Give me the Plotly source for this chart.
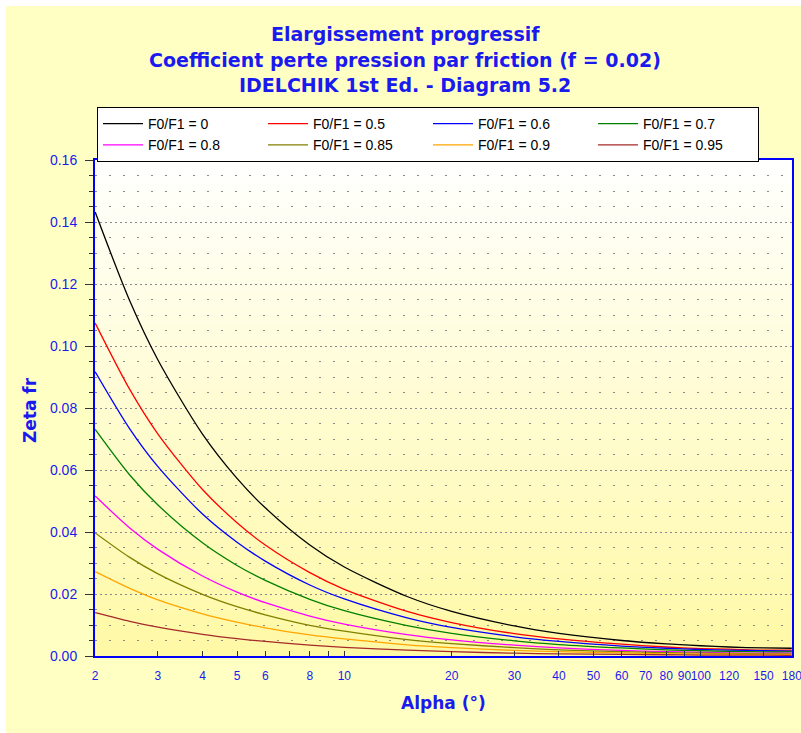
import math
import plotly.graph_objects as go

# ---------------- data ----------------
alpha = [2, 2.5, 3, 4, 5, 6, 8, 10, 15, 20, 30, 40, 60, 80, 100, 120, 150, 180]

zeta_0 = [0.1432, 0.1146, 0.0955, 0.0716, 0.0573, 0.0478, 0.0358, 0.0287, 0.0192, 0.0144,
          0.0097, 0.0073, 0.0050, 0.0039, 0.0033, 0.0029, 0.0026, 0.0025]
zeta_05 = [0.1074, 0.0860, 0.0716, 0.0537, 0.0430, 0.0358, 0.0269, 0.0215, 0.0144, 0.0108,
           0.0072, 0.0055, 0.0038, 0.0029, 0.0024, 0.0022, 0.0019, 0.0019]
zeta_06 = [0.0917, 0.0733, 0.0611, 0.0458, 0.0367, 0.0306, 0.0229, 0.0184, 0.0123, 0.0092,
           0.0062, 0.0047, 0.0032, 0.0025, 0.0021, 0.0019, 0.0017, 0.0016]
zeta_07 = [0.0731, 0.0584, 0.0487, 0.0365, 0.0292, 0.0244, 0.0183, 0.0146, 0.0098, 0.0073,
           0.0049, 0.0037, 0.0026, 0.0020, 0.0017, 0.0015, 0.0013, 0.0013]
zeta_08 = [0.0516, 0.0413, 0.0344, 0.0258, 0.0206, 0.0172, 0.0129, 0.0103, 0.0069, 0.0052,
           0.0035, 0.0026, 0.0018, 0.0014, 0.0012, 0.0010, 0.0009, 0.0009]
zeta_085 = [0.0397, 0.0318, 0.0265, 0.0199, 0.0159, 0.0133, 0.0099, 0.0080, 0.0053, 0.0040,
            0.0027, 0.0020, 0.0014, 0.0011, 0.0009, 0.0008, 0.0007, 0.0007]
zeta_09 = [0.0272, 0.0218, 0.0181, 0.0136, 0.0109, 0.0091, 0.0068, 0.0055, 0.0036, 0.0027,
           0.0018, 0.0014, 0.0010, 0.0007, 0.0006, 0.0006, 0.0005, 0.0005]
zeta_095 = [0.0140, 0.0112, 0.0093, 0.0070, 0.0056, 0.0047, 0.0035, 0.0028, 0.0019, 0.0014,
            0.0009, 0.0007, 0.0005, 0.0004, 0.0003, 0.0003, 0.0003, 0.0002]

series_names = ["F0/F1 = 0", "F0/F1 = 0.5", "F0/F1 = 0.6", "F0/F1 = 0.7",
                "F0/F1 = 0.8", "F0/F1 = 0.85", "F0/F1 = 0.9", "F0/F1 = 0.95"]
series_values = [zeta_0, zeta_05, zeta_06, zeta_07, zeta_08, zeta_085, zeta_09, zeta_095]
series_colors = ["#000000", "#FF0000", "#0000FF", "#008000",
                 "#FF00FF", "#808000", "#FFA500", "#A52A2A"]

x_tick_vals = [2, 3, 4, 5, 6, 7, 8, 9, 10, 20, 30, 40, 50, 60, 70, 80, 90, 100, 120, 150, 180]
x_tick_text = ["2", "3", "4", "5", "6", "", "8", "", "10", "20", "30", "40", "50", "60",
               "70", "80", "90", "100", "120", "150", "180"]
x_major_grid = [10, 100]
x_minor_grid = [3, 4, 5, 6, 7, 8, 9, 20, 30, 40, 50, 60, 70, 80, 90]

title_lines = ["Elargissement progressif",
               "Coefficient perte pression par friction (f = 0.02)",
               "IDELCHIK 1st Ed. - Diagram 5.2"]

# ---------------- figure ----------------
FONT = "Liberation Sans, Arial, sans-serif"
TFONT = "DejaVu Sans, Verdana, sans-serif"
BLUE = "#0000FF"
TXT_BLUE = "#1a1aee"
GRID = "#8a8a8a"

fig = go.Figure()
for name, vals, col in zip(series_names, series_values, series_colors):
    fig.add_trace(go.Scatter(x=alpha, y=vals, mode="lines", name=name,
                             line=dict(color=col, width=1.3, shape="spline", smoothing=0.8)))

W, H = 801, 733
ml, mr, mt, mb = 95, 9, 160, 77
pw, ph = W - ml - mr, H - mt - mb

shapes = []
# outer pale-yellow panel
shapes.append(dict(type="rect", xref="paper", yref="paper",
                   x0=(6 - ml) / pw, x1=(W + 5 - ml) / pw,
                   y0=(H - mb - (H + 5)) / ph, y1=(H - mb - 6) / ph,
                   fillcolor="#FFFFC4", line=dict(width=0), layer="below"))
# vertical gradient in plot area (white -> yellow)
n = 60
top = (255, 255, 255)
bot = (255, 249, 165)
for i in range(n):
    t = (i + 0.5) / n
    c = tuple(int(round(top[k] + (bot[k] - top[k]) * t)) for k in range(3))
    shapes.append(dict(type="rect", xref="x domain", yref="y domain",
                       x0=0, x1=1, y0=1 - (i + 1) / n, y1=1 - i / n + 0.002,
                       fillcolor="rgb(%d,%d,%d)" % c, line=dict(width=0), layer="below"))

annotations = []
for i, line in enumerate(title_lines):
    py = 34 + i * 25.5
    annotations.append(dict(text="<b>%s</b>" % line, xref="paper", yref="paper",
                            x=(405 - ml) / pw, y=(H - mb - py) / ph, showarrow=False,
                            xanchor="center", yanchor="middle",
                            font=dict(family=TFONT, size=19, color=TXT_BLUE)))
annotations.append(dict(text="<b>Zeta fr</b>", xref="paper", yref="paper",
                        x=(30 - ml) / pw, y=(H - mb - 410) / ph, textangle=-90, showarrow=False,
                        xanchor="center", yanchor="middle",
                        font=dict(family=TFONT, size=17, color=TXT_BLUE)))
annotations.append(dict(text="<b>Alpha (°)</b>", xref="paper", yref="paper",
                        x=(443 - ml) / pw, y=(H - mb - 703) / ph, showarrow=False,
                        xanchor="center", yanchor="middle",
                        font=dict(family=TFONT, size=17, color=TXT_BLUE)))

xr = [math.log10(2) - 0.0005, math.log10(180) + 0.0005]

fig.update_layout(
    width=W, height=H,
    margin=dict(l=ml, r=mr, t=mt, b=mb, autoexpand=False),
    paper_bgcolor="white",
    plot_bgcolor="#FFFDE0",
    font=dict(family=FONT, size=14, color=TXT_BLUE),
    showlegend=True,
    legend=dict(orientation="h", x=(97 - ml) / pw, y=(H - mb - 107) / ph,
                xanchor="left", yanchor="top",
                bgcolor="white", bordercolor="black", borderwidth=1,
                entrywidth=110, entrywidthmode="pixels", itemwidth=40,
                font=dict(family=FONT, size=14, color="black"),
                tracegroupgap=0),
    xaxis=dict(type="log", range=xr, tickmode="array", tickvals=x_tick_vals,
               ticktext=x_tick_text, ticks="inside", ticklen=5, tickcolor="#333333",
               tickwidth=1, showgrid=False, zeroline=False, tickangle=0,
               showline=True, linecolor=BLUE, linewidth=2, mirror=True,
               ticklabelstandoff=8, ticklabeloverflow="allow",
               tickfont=dict(family=FONT, size=12, color=TXT_BLUE)),
    xaxis2=dict(type="log", range=xr, overlaying="x", anchor="y", side="bottom",
                tickmode="array", tickvals=x_major_grid, ticktext=["", ""],
                ticks="outside", ticklen=6, tickcolor="#333333",
                showgrid=True, gridcolor=GRID, griddash="2px,3px", gridwidth=1,
                showline=False, zeroline=False, showticklabels=False,
                minor=dict(tickvals=x_minor_grid, showgrid=True, gridcolor=GRID,
                           griddash="2px,12px", gridwidth=1, ticks="")),
    yaxis=dict(range=[0, 0.16], tickmode="linear", tick0=0, dtick=0.02,
               tickformat=".2f", ticks="outside", ticklen=8, tickcolor="#333333",
               showgrid=True, gridcolor=GRID, griddash="2px,3px", gridwidth=1,
               zeroline=False, showline=True, linecolor=BLUE, linewidth=2, mirror=True,
               ticklabelstandoff=5,
               tickfont=dict(family=FONT, size=14, color=TXT_BLUE),
               minor=dict(dtick=0.005, ticks="outside", ticklen=4, tickcolor="#333333",
                          showgrid=True, gridcolor=GRID, griddash="2px,12px", gridwidth=1)),
    shapes=shapes,
    annotations=annotations,
)

fig.write_html("out.html", config={"displayModeBar": False},
               post_script="document.body.style.margin='0';")
